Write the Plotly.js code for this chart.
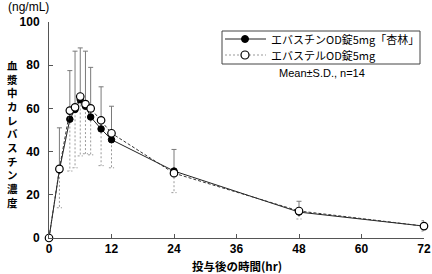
<!DOCTYPE html>
<html>
<head>
<meta charset="utf-8">
<script src="https://cdn.plot.ly/plotly-3.0.1.min.js"></script>
<style>html,body{margin:0;padding:0;background:#fff;}#chart{width:432px;height:274px;}</style>
</head>
<body>
<div id="chart"></div>
<script>
// hours after dosing
const times = [0, 2, 4, 5, 6, 7, 8, 10, 12, 24, 48, 72];
// エバスチンOD錠5mg「杏林」 (filled circles), mean and SD
const kyorinMean = [0, 31.5, 55, 59.5, 64, 61, 56, 50.5, 45.5, 31, 12, 5.5];
const kyorinSD   = [0, 19.5, 22.5, 27, 24, 25.5, 23, 19.5, 15.5, 10, 5, 2.5];
// エバステルOD錠5mg (open circles), mean and SD
const stelMean = [0, 32, 59, 60.5, 65.5, 62, 60, 54.5, 48.5, 30, 12.5, 5.5];
const stelSD   = [0, 18, 28, 28, 27.5, 23, 21.5, 21, 16, 9, 3.7, 2.3];

const seriesNames = ['エバスチンOD錠5mg「杏林」', 'エバステルOD錠5mg'];
const xTicks = [0, 12, 24, 36, 48, 60, 72];
const yTicks = [0, 20, 40, 60, 80, 100];

const JP = '"Noto Sans CJK JP", sans-serif';
const NUM = '"Liberation Sans", Arial, sans-serif';

// plot-area geometry (pixels) for placing layout decorations
const M = {l: 49, r: 8, t: 22, b: 36};
const PW = 432 - M.l - M.r, PH = 274 - M.t - M.b;
const px = x => (x - M.l) / PW;
const py = y => (274 - M.b - y) / PH;

// dashed lower error bars for open-circle series (built from the data)
const capHalf = 0.5;
const exs = [], eys = [];
times.forEach((t, i) => {
  if (stelSD[i] <= 0) return;
  const lo = stelMean[i] - stelSD[i];
  exs.push(t, t, null, t - capHalf, t + capHalf, null);
  eys.push(stelMean[i], lo, null, lo, lo, null);
});

const traces = [
  {
    x: exs, y: eys, mode: 'lines', type: 'scatter', showlegend: false, hoverinfo: 'skip',
    line: {color: '#9a9a9a', width: 1, dash: '2px,2px'}, cliponaxis: false
  },
  {
    x: times, y: kyorinMean, type: 'scatter', mode: 'lines+markers',
    name: seriesNames[0], showlegend: false,
    line: {color: '#222', width: 1},
    marker: {color: '#000', size: 6.5, line: {color: '#000', width: 1}},
    error_y: {type: 'data', symmetric: false, array: kyorinSD, arrayminus: kyorinSD.map(() => 0),
              color: '#7a7a7a', thickness: 1, width: 2.5},
    cliponaxis: false
  },
  {
    x: times, y: stelMean, type: 'scatter', mode: 'lines+markers',
    name: seriesNames[1], showlegend: false,
    line: {color: '#333', width: 1, dash: '3px,2px'},
    marker: {color: '#fff', size: 7.5, line: {color: '#000', width: 1.2}},
    cliponaxis: false
  }
];

// legend box drawn as layout shapes + annotations
const LG = {x0: 222, x1: 420, y0: 31, y1: 64, rows: [39, 55], lx0: 225, lx1: 266, mx: 245, tx: 269};
const shapes = [
  {type: 'rect', xref: 'paper', yref: 'paper', x0: px(LG.x0), x1: px(LG.x1), y0: py(LG.y1), y1: py(LG.y0),
   line: {color: '#444', width: 1}, fillcolor: '#fff', layer: 'above'},
  {type: 'line', xref: 'paper', yref: 'paper', x0: px(LG.lx0), x1: px(LG.lx1), y0: py(LG.rows[0]), y1: py(LG.rows[0]),
   line: {color: '#222', width: 1}, layer: 'above'},
  {type: 'circle', xref: 'paper', yref: 'paper', x0: px(LG.mx - 3.5), x1: px(LG.mx + 3.5), y0: py(LG.rows[0] + 3.5), y1: py(LG.rows[0] - 3.5),
   line: {color: '#000', width: 1}, fillcolor: '#000', layer: 'above'},
  {type: 'line', xref: 'paper', yref: 'paper', x0: px(LG.lx0), x1: px(LG.lx1), y0: py(LG.rows[1]), y1: py(LG.rows[1]),
   line: {color: '#999', width: 1, dash: '2px,2px'}, layer: 'above'},
  {type: 'circle', xref: 'paper', yref: 'paper', x0: px(LG.mx - 4), x1: px(LG.mx + 4), y0: py(LG.rows[1] + 4), y1: py(LG.rows[1] - 4),
   line: {color: '#000', width: 1.2}, fillcolor: '#fff', layer: 'above'}
];

const layout = {
  width: 432, height: 274,
  margin: M,
  paper_bgcolor: '#fff', plot_bgcolor: '#fff',
  font: {family: NUM, size: 11, color: '#000'},
  showlegend: false,
  xaxis: {
    range: [0, 72], tickvals: xTicks, ticktext: xTicks.map(String),
    showgrid: false, zeroline: false, showline: true, linecolor: '#555', linewidth: 1,
    ticks: 'inside', ticklen: 4, tickcolor: '#555', ticklabelstandoff: 0,
    tickfont: {family: NUM, size: 12, color: '#000', weight: 'bold'}, fixedrange: true
  },
  yaxis: {
    range: [0, 100], tickvals: yTicks, ticktext: yTicks.map(String),
    showgrid: false, zeroline: false, showline: true, linecolor: '#555', linewidth: 1,
    ticks: 'inside', ticklen: 4, tickcolor: '#555', ticklabelstandoff: 6,
    tickfont: {family: NUM, size: 12, color: '#000', weight: 'bold'}, fixedrange: true
  },
  shapes: shapes,
  annotations: [
    {text: '(ng/mL)', xref: 'paper', yref: 'paper', x: px(28), y: py(7), showarrow: false,
     xanchor: 'center', yanchor: 'middle', font: {family: NUM, size: 12, color: '#000'}},
    {text: '血<br>漿<br>中<br>カ<br>レ<br>バ<br>ス<br>チ<br>ン<br>濃<br>度', xref: 'paper', yref: 'paper',
     x: px(12), y: py(133.5), showarrow: false, xanchor: 'center', yanchor: 'middle',
     font: {family: JP, size: 10.5, color: '#000', weight: 'bold'}},
    {text: '投与後の時間(hr)', xref: 'paper', yref: 'paper', x: px(237), y: py(266), showarrow: false,
     xanchor: 'center', yanchor: 'middle', font: {family: JP, size: 11.5, color: '#000', weight: 'bold'}},
    {text: 'Mean±S.D., n=14', xref: 'paper', yref: 'paper', x: px(322), y: py(73), showarrow: false,
     xanchor: 'center', yanchor: 'middle', font: {family: NUM, size: 11, color: '#000'}},
    {text: seriesNames[0], xref: 'paper', yref: 'paper', x: px(LG.tx), y: py(LG.rows[0]), showarrow: false,
     xanchor: 'left', yanchor: 'middle', font: {family: JP, size: 11, color: '#000'}},
    {text: seriesNames[1], xref: 'paper', yref: 'paper', x: px(LG.tx), y: py(LG.rows[1]), showarrow: false,
     xanchor: 'left', yanchor: 'middle', font: {family: JP, size: 11, color: '#000'}}
  ]
};

Plotly.newPlot('chart', traces, layout, {displayModeBar: false, staticPlot: true});
</script>
</body>
</html>
